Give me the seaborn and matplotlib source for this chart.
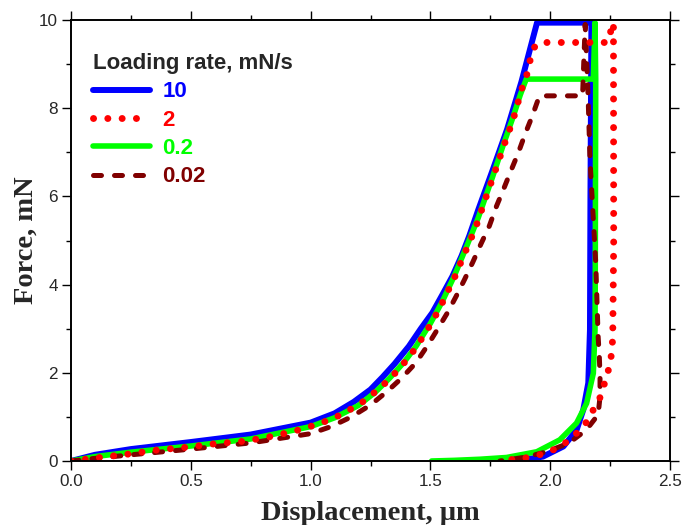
import matplotlib
matplotlib.use("Agg")
import matplotlib.pyplot as plt
import seaborn as sns
import pandas as pd
from matplotlib.ticker import MultipleLocator, FormatStrFormatter

# ---- data ----
rates = ["10", "2", "0.2", "0.02"]
colors = ["#0000FF", "#FF0000", "#00FF00", "#800000"]

x_10 = [0.0, 0.1, 0.25, 0.5, 0.75, 1.0, 1.1, 1.18, 1.25, 1.30, 1.35, 1.41, 1.46, 1.508,
        1.55, 1.592, 1.63, 1.662, 1.70, 1.76, 1.82, 1.88, 1.945,
        2.172, 2.168, 2.166, 2.159, 2.138, 2.11, 2.055, 1.97, 1.88, 1.8]
y_10 = [0.0, 0.14, 0.27, 0.43, 0.6, 0.87, 1.08, 1.34, 1.62, 1.9, 2.2, 2.6, 3.0, 3.36,
        3.77, 4.19, 4.65, 5.1, 5.7, 6.6, 7.52, 8.6, 9.94,
        9.94, 6.0, 2.98, 1.77, 1.16, 0.70, 0.33, 0.10, 0.02, 0.0]

x_2 = [0.0, 0.12, 0.245, 0.36, 0.48, 0.6, 0.726, 0.85, 0.97, 1.09, 1.15, 1.21, 1.273, 1.331,
       1.387, 1.433, 1.473, 1.51, 1.543, 1.571, 1.60, 1.626, 1.651, 1.677, 1.70, 1.721,
       1.763, 1.804, 1.846, 1.881, 1.902, 1.916, 1.937, 1.96, 2.238, 2.264,
       2.265, 2.261, 2.257, 2.247, 2.23, 2.21, 2.18, 2.145, 2.087, 2.03, 1.969, 1.909,
       1.849, 1.788]
y_2 = [0.0, 0.08, 0.16, 0.25, 0.31, 0.39, 0.45, 0.57, 0.73, 0.95, 1.12, 1.31, 1.58, 1.86,
       2.2, 2.52, 2.85, 3.18, 3.51, 3.83, 4.15, 4.49, 4.81, 5.14, 5.46, 5.81,
       6.46, 7.11, 7.75, 8.43, 8.75, 9.08, 9.42, 9.49, 9.49, 9.94,
       5.0, 2.81, 2.46, 2.14, 1.82, 1.46, 1.16, 0.83, 0.5, 0.29, 0.16, 0.08,
       0.04, 0.0]

x_02 = [0.0, 0.1, 0.25, 0.5, 0.75, 1.0, 1.1, 1.2, 1.27, 1.33, 1.39, 1.44, 1.5, 1.55, 1.6,
        1.65, 1.70, 1.76, 1.80, 1.845, 1.875, 1.90, 2.18, 2.187, 2.19,
        2.188, 2.187, 2.18, 2.152, 2.11, 2.04, 1.944, 1.818, 1.707, 1.6, 1.505]
y_02 = [0.0, 0.1, 0.2, 0.34, 0.5, 0.78, 0.98, 1.26, 1.56, 1.88, 2.24, 2.6, 3.12, 3.62, 4.2,
        4.85, 5.52, 6.45, 7.1, 7.8, 8.3, 8.66, 8.66, 9.94, 8.66,
        4.0, 2.98, 1.99, 1.31, 0.86, 0.48, 0.21, 0.08, 0.04, 0.015, 0.0]

x_002 = [0.0, 0.1, 0.25, 0.5, 0.75, 1.0, 1.085, 1.17, 1.25, 1.32, 1.38, 1.44, 1.487, 1.529,
         1.571, 1.607, 1.642, 1.677, 1.71, 1.746, 1.776, 1.808, 1.836, 1.867, 1.895, 1.925,
         1.955, 2.135, 2.146, 2.158, 2.166, 2.173, 2.19, 2.2, 2.205, 2.208, 2.208, 2.2,
         2.15, 2.076, 1.985, 1.9, 1.79]
y_002 = [0.0, 0.06, 0.14, 0.27, 0.41, 0.62, 0.78, 1.0, 1.27, 1.58, 1.88, 2.23, 2.61, 2.98,
         3.36, 3.73, 4.11, 4.51, 4.91, 5.33, 5.78, 6.2, 6.58, 6.99, 7.41, 7.82,
         8.28, 8.28, 9.9, 8.3, 6.84, 6.16, 4.5, 2.83, 2.37, 1.92, 1.46, 1.05,
         0.7, 0.4, 0.21, 0.09, 0.0]

xs = {"10": x_10, "2": x_2, "0.2": x_02, "0.02": x_002}
ys = {"10": y_10, "2": y_2, "0.2": y_02, "0.02": y_002}

sns.set_theme(style="ticks")
plt.rcParams["font.family"] = ["Liberation Sans", "DejaVu Sans"]

fig = plt.figure(figsize=(6.84, 5.25), dpi=100)
ax = fig.add_axes([71 / 684, 64 / 525, 599 / 684, 441 / 525])

styles = {
    "10": dict(lw=4.3, linestyle="-", solid_capstyle="round", solid_joinstyle="round"),
    "2": dict(lw=5.0, linestyle=(0, (0.01, 2.05)), dash_capstyle="round"),
    "0.2": dict(lw=4.0, linestyle="-", solid_capstyle="round", solid_joinstyle="round"),
    "0.02": dict(lw=3.6, linestyle=(0, (1.6, 2.6)), dash_capstyle="round"),
}
cmap = dict(zip(rates, colors))
draw_order = ["10", "0.2", "0.02", "2"]
for r in draw_order:
    df = pd.DataFrame({"x": xs[r], "y": ys[r]})
    sns.lineplot(data=df, x="x", y="y", sort=False, estimator=None, ax=ax,
                 color=cmap[r], label=r, **styles[r])

ax.set_xlim(0, 2.5)
ax.set_ylim(0, 10)
ax.xaxis.set_major_locator(MultipleLocator(0.5))
ax.xaxis.set_minor_locator(MultipleLocator(0.25))
ax.yaxis.set_major_locator(MultipleLocator(2))
ax.yaxis.set_minor_locator(MultipleLocator(1))
ax.xaxis.set_major_formatter(FormatStrFormatter("%.1f"))
ax.yaxis.set_major_formatter(FormatStrFormatter("%d"))
ax.tick_params(which="both", direction="out", top=True, right=True,
               labeltop=False, labelright=False, width=1.0, color="black")
ax.tick_params(which="major", length=6.5, labelsize=12.3, pad=3)
ax.tick_params(which="minor", length=3.5)
for s in ax.spines.values():
    s.set_linewidth(1.4)
    s.set_color("black")

ax.set_xlabel("Displacement, μm", family=["Liberation Serif", "DejaVu Serif"],
              fontweight="bold", fontsize=20.5, labelpad=8.5)
ax.set_ylabel("Force, mN", family=["Liberation Serif", "DejaVu Serif"],
              fontweight="bold", fontsize=20.5, labelpad=0)

handles, labels = ax.get_legend_handles_labels()
hmap = dict(zip(labels, handles))
leg = ax.legend([hmap[r] for r in rates], rates, title="Loading rate, mN/s",
                loc="upper left", bbox_to_anchor=(0.037, 0.925), frameon=False,
                borderpad=0, borderaxespad=0, handlelength=2.57, handletextpad=0.54,
                labelspacing=0.33, alignment="left",
                prop={"weight": "bold", "size": 16},
                title_fontproperties={"weight": "bold", "size": 16})
for t, c in zip(leg.get_texts(), colors):
    t.set_color(c)

fig.savefig("out.png", dpi=100)
